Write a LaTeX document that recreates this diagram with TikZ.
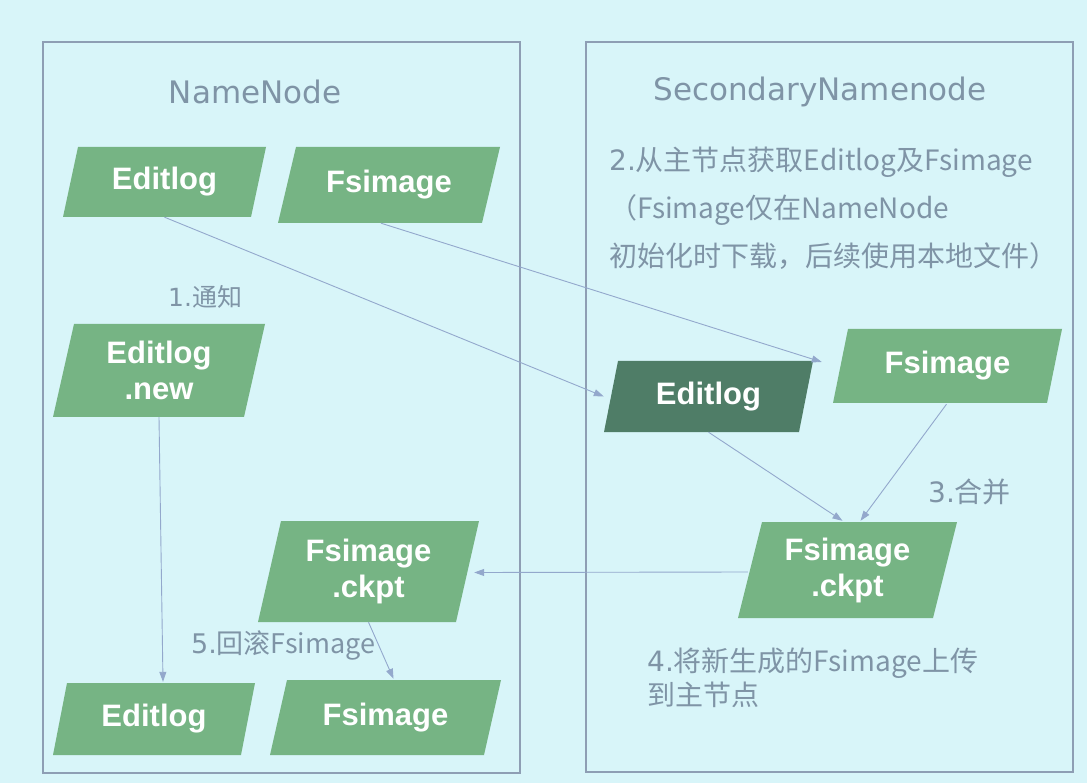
\documentclass[tikz,border=0pt]{standalone}
\usepackage{fontspec}
\setmainfont{DejaVu Sans}
\newfontfamily\cjk{Noto Sans CJK SC}
\newfontfamily\boxf{Liberation Sans}
\usetikzlibrary{calc,arrows.meta}
\definecolor{bgc}{HTML}{D8F5F9}
\definecolor{boxgreen}{HTML}{76B484}
\definecolor{boxdark}{HTML}{4F7D67}
\definecolor{labc}{HTML}{7F94A6}
\definecolor{linec}{HTML}{93A8CC}
\definecolor{panelc}{HTML}{8E9EB4}
\tikzset{
  para/.style args={#1/#2/#3/#4}{shape=rectangle, inner sep=0pt,
    minimum width=#1pt, minimum height=#2pt, text=white, align=center,
    font=\boxf\bfseries\fontsize{31}{36}\selectfont,
    path picture={\fill[#4] (path picture bounding box.south west)
      -- ($(path picture bounding box.south east)+(-#3,0)$)
      -- (path picture bounding box.north east)
      -- ($(path picture bounding box.north west)+(#3,0)$) -- cycle;}},
  lab/.style={text=labc, inner sep=0pt, font=\fontsize{28}{33}\selectfont},
  ttl/.style={text=labc, inner sep=0pt, font=\fontsize{31}{36}\selectfont},
  conn/.style={draw=linec, line width=0.9pt, -{Triangle[length=10pt,width=7pt]}},
  panel/.style={draw=panelc, line width=1.3pt}
}
\begin{document}
\begin{tikzpicture}[x=1pt,y=-1pt]
\fill[bgc] (0,0) rectangle (1087,783);
\useasboundingbox (0,0) rectangle (1087,783);
% panels
\draw[panel] (43,42) rectangle (520,773);
\draw[panel] (586,42) rectangle (1073,772);
% titles
\node[ttl] (tnn) at (255,92) {NameNode};
\node[ttl] (tsn) at (820,92) {SecondaryNamenode};
% left nodes
\node[para=203/70/15/boxgreen] (e1) at (164.5,182) {Editlog};
\node[para=222/76/18/boxgreen] (f1) at (389,185) {Fsimage};
\node[para=212/93/21/boxgreen] (en) at (159,370.5) {Editlog\\.new};
\node[para=221/101/23/boxgreen] (ck1) at (368.5,571.5) {Fsimage\\.ckpt};
\node[para=202/72/14/boxgreen] (e2) at (154,719) {Editlog};
\node[para=231/75/17/boxgreen] (f2) at (385.5,717.5) {Fsimage};
% right nodes
\node[para=209/71/14/boxdark] (es) at (708.5,396.5) {Editlog};
\node[para=229/74/15/boxgreen] (fs) at (947.5,366) {Fsimage};
\node[para=219/96/24/boxgreen] (ck2) at (847.5,570) {Fsimage\\.ckpt};
% labels
\node[lab, anchor=west] (t2a) at (609,162) {2.\cjk{从主节点获取}Editlog\cjk{及}Fsimage};
\node[lab, anchor=west] (t2b) at (609,210) {\cjk{（}Fsimage\cjk{仅在}NameNode};
\node[lab, anchor=west] (t2c) at (609,256) {\cjk{初始化时下载，后续使用本地文件）}};
\node[lab, anchor=west, font=\fontsize{25}{30}\selectfont] (t1) at (168,297) {1.\cjk{通知}};
\node[lab, anchor=west] (t3) at (928,492) {3.\cjk{合并}};
\node[lab, anchor=west] (t4a) at (647,663) {4.\cjk{将新生成的}Fsimage\cjk{上传}};
\node[lab, anchor=west] (t4b) at (647,695) {\cjk{到主节点}};
\node[lab, anchor=west, font=\fontsize{27}{32}\selectfont] (t5) at (191,645) {5.\cjk{回滚}Fsimage};
% connectors
\draw[conn] (e1.south) -- ($(es.west)+(0,0)$);
\draw[conn] ($(f1.south)+(-8,0)$) -- ($(fs.west)+(-11,-4)$);
\draw[conn] (en.south) -- ($(e2.north)+(9,-1)$);
\draw[conn] (es.south) -- ($(ck2.north)+(-5,-1)$);
\draw[conn] ($(fs.south)+(-1,1)$) -- ($(ck2.north)+(13,-1)$);
\draw[conn] ($(ck2.west)+(10,2)$) -- ($(ck1.east)+(-5,1)$);
\draw[conn] (ck1.south) -- ($(f2.north)+(8,-1)$);
\end{tikzpicture}
\end{document}
